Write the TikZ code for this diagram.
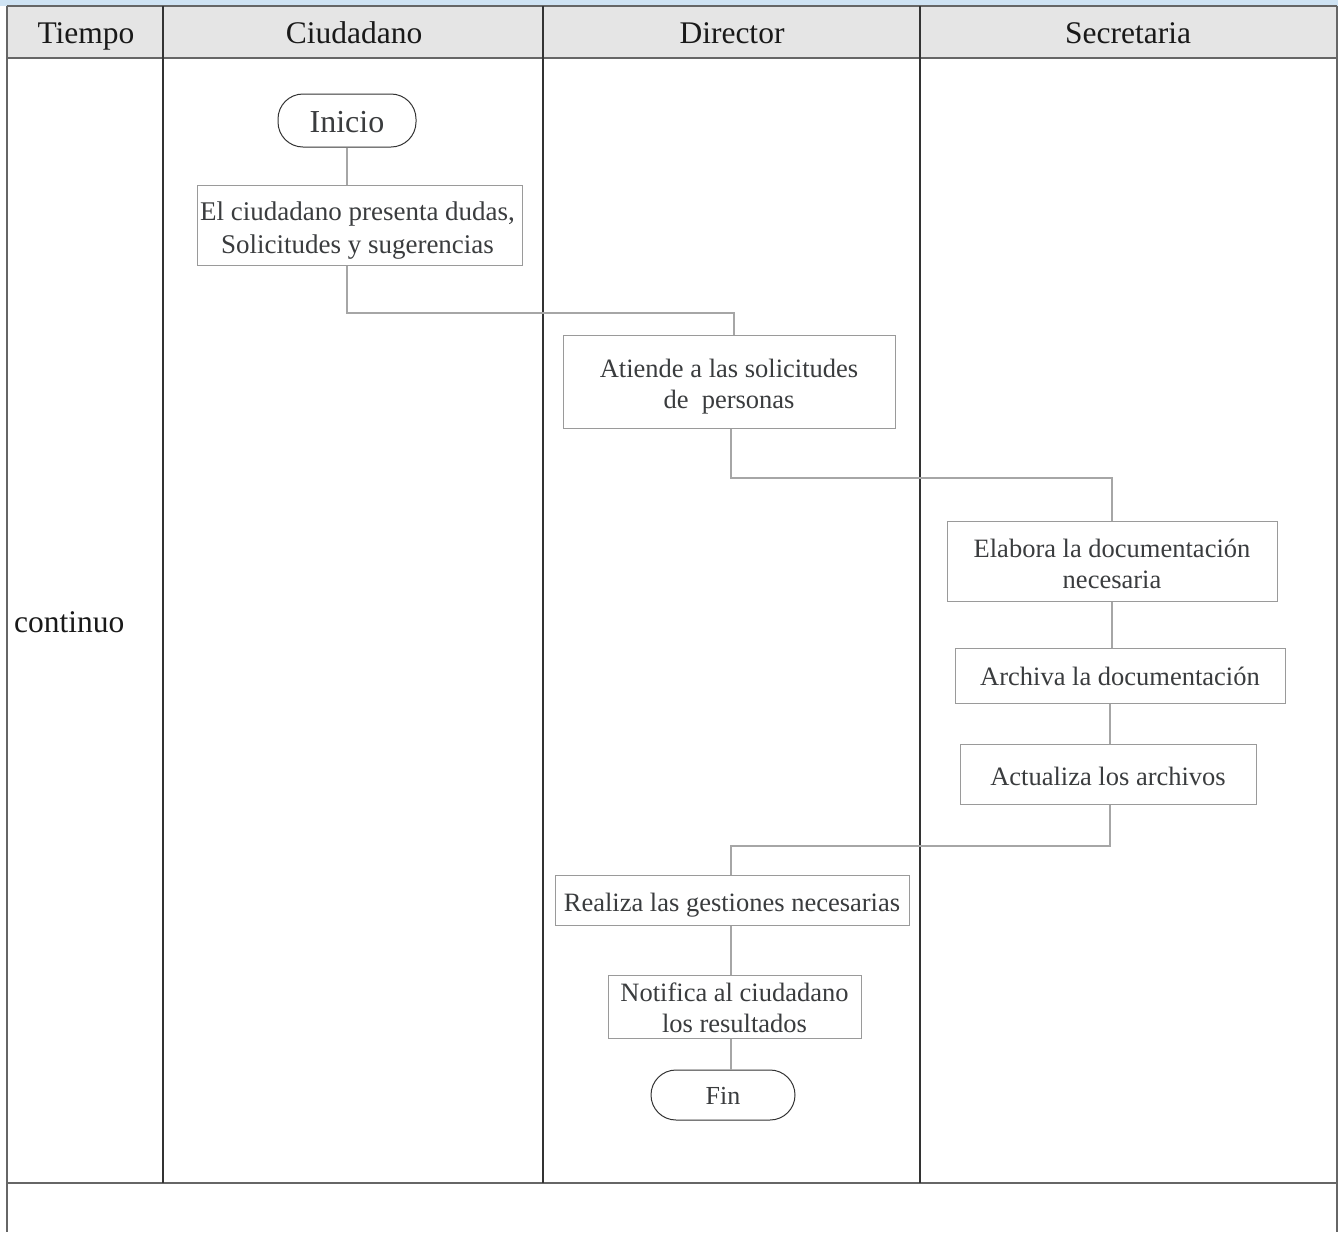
\documentclass[tikz,border=0pt]{standalone}
\usepackage{fontspec}
\setmainfont{Liberation Serif}
\definecolor{stripblue}{HTML}{CFE3F3}
\definecolor{headgray}{HTML}{E5E5E5}
\definecolor{gridline}{HTML}{666666}
\definecolor{laneline}{HTML}{333333}
\definecolor{boxline}{HTML}{9A9A9A}
\definecolor{connline}{HTML}{A6A6A6}
\definecolor{boxtext}{HTML}{3A3C3E}
\begin{document}
\begin{tikzpicture}[x=1pt,y=-1pt,
  headtext/.style={text=black!90, anchor=base, inner sep=0pt,
    font=\fontsize{31.5}{36}\selectfont},
  procbox/.style={draw=boxline, line width=1pt, fill=white, inner sep=0pt},
  proctext/.style={inner sep=0pt, align=center, text=boxtext,
    font=\fontsize{26.5}{31}\selectfont},
  termbox/.style={draw=laneline, line width=1pt, fill=white, inner sep=0pt,
    rounded corners=25pt},
  conn/.style={draw=connline, line width=1.2pt}]
\useasboundingbox (0,0) rectangle (1338,1232);

% table frame
\fill[stripblue] (0,0) rectangle (1338,6);
\fill[headgray] (7,6) rectangle (1337,58);
\draw[gridline, line width=2pt] (7,6) -- (1337,6);
\draw[gridline, line width=2pt] (7,58) -- (1337,58);
\draw[gridline, line width=2pt] (7,1183) -- (1337,1183);
\draw[gridline, line width=2pt] (7,6) -- (7,1232);
\draw[gridline, line width=2pt] (1337,6) -- (1337,1232);
\foreach \xx in {163,543,920}
  \draw[laneline, line width=1.5pt] (\xx,6) -- (\xx,1183);

% column titles
\node[headtext] (hT) at (86,43.5) {Tiempo};
\node[headtext] (hC) at (354,43.5) {Ciudadano};
\node[headtext] (hD) at (732,43.5) {Director};
\node[headtext] (hS) at (1128,43.5) {Secretaria};
\node[text=black!90, font=\fontsize{31.5}{36}\selectfont, anchor=west,
  inner sep=0pt] (cont) at (14,622) {continuo};

% flow boxes
\node[termbox, minimum width=138, minimum height=53] (inicio) at (347,120.5) {};
\node[procbox, minimum width=325, minimum height=80] (b1) at (359.5,225) {};
\node[procbox, minimum width=332, minimum height=93] (b2) at (729,381.5) {};
\node[procbox, minimum width=330, minimum height=80] (b3) at (1112,561) {};
\node[procbox, minimum width=330, minimum height=55] (b4) at (1120,675.5) {};
\node[procbox, minimum width=296, minimum height=60] (b5) at (1108,774) {};
\node[procbox, minimum width=354, minimum height=50] (b6) at (732,900) {};
\node[procbox, minimum width=253, minimum height=63] (b7) at (734.5,1006.5) {};
\node[termbox, minimum width=144, minimum height=50] (fin) at (723,1095) {};

% box texts (yshift is on the page, so negative moves down)
\node[proctext, font=\fontsize{32}{36}\selectfont] (tinicio)
  at ([yshift=-1.5pt]inicio.center) {Inicio};
\node[proctext, font=\fontsize{27}{33}\selectfont] (t1)
  at ([xshift=-2pt,yshift=-6pt]b1.center) {El ciudadano presenta dudas,\\Solicitudes y sugerencias};
\node[proctext] (t2) at ([yshift=-5pt]b2.center) {Atiende a las solicitudes\\de\ \ personas};
\node[proctext] (t3) at ([yshift=-3pt]b3.center) {Elabora la documentación\\necesaria};
\node[proctext] (t4) at ([yshift=-1pt]b4.center) {Archiva la documentación};
\node[proctext] (t5) at ([yshift=-2pt]b5.center) {Actualiza los archivos};
\node[proctext] (t6) at ([yshift=-5pt]b6.center) {Realiza las gestiones necesarias};
\node[proctext] (t7) at ([yshift=-1.5pt]b7.center) {Notifica al ciudadano\\los resultados};
\node[proctext, font=\fontsize{26}{30}\selectfont] (tfin)
  at ([yshift=-1pt]fin.center) {Fin};

% connectors
\draw[conn] (inicio.south) -- (inicio.south |- b1.north);
\draw[conn] (b1.south -| inicio.south) |- (734,313) -- ([xshift=5pt]b2.north);
\draw[conn] ([xshift=2pt]b2.south) |- (1112,478) -- (b3.north);
\draw[conn] (b3.south) -- (b3.south |- b4.north);
\draw[conn] ([xshift=2pt]b5.north |- b4.south) -- ([xshift=2pt]b5.north);
\draw[conn] ([xshift=2pt]b5.south) |- (731,846) -- ([xshift=-1pt]b6.north);
\draw[conn] ([xshift=-1pt]b6.south) -- ([xshift=-1pt]b6.south |- b7.north);
\draw[conn] ([xshift=-1pt]b6.south |- b7.south) -- ([xshift=-1pt]b6.south |- fin.north);
\end{tikzpicture}
\end{document}
